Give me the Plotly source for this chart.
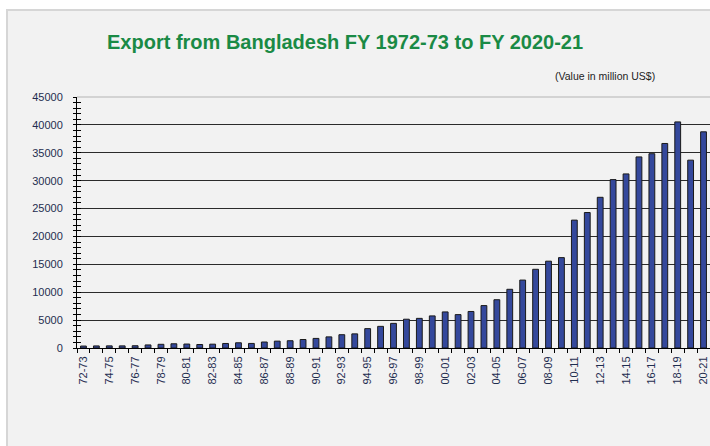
import plotly.graph_objects as go

fiscal_years = [
    "72-73", "73-74", "74-75", "75-76", "76-77", "77-78", "78-79", "79-80",
    "80-81", "81-82", "82-83", "83-84", "84-85", "85-86", "86-87", "87-88",
    "88-89", "89-90", "90-91", "91-92", "92-93", "93-94", "94-95", "95-96",
    "96-97", "97-98", "98-99", "99-00", "00-01", "01-02", "02-03", "03-04",
    "04-05", "05-06", "06-07", "07-08", "08-09", "09-10", "10-11", "11-12",
    "12-13", "13-14", "14-15", "15-16", "16-17", "17-18", "18-19", "19-20",
    "20-21",
]
export_values = [
    348, 372, 383, 380, 405, 549, 662, 759,
    710, 626, 687, 811, 935, 819, 1074, 1231,
    1305, 1524, 1718, 1994, 2383, 2534, 3473, 3882,
    4418, 5161, 5313, 5752, 6467, 5986, 6548, 7603,
    8655, 10526, 12178, 14111, 15565, 16205, 22928, 24288,
    27018, 30187, 31209, 34257, 34835, 36668, 40535, 33674,
    38758,
]
tick_labels = [fy if i % 2 == 0 else "" for i, fy in enumerate(fiscal_years)]
y_ticks = list(range(0, 45001, 5000))
y_tick_text = [str(v) for v in y_ticks]

W, H = 710, 446
L, R, T, B = 77, 0, 97, 98
PW, PH = W - L - R, H - T - B

def px_x(p):
    return (p - L) / PW

def px_y(p):
    return (H - B - p) / PH

navy = "#1f2d50"
font_main = "Liberation Sans, Arial, sans-serif"

fig = go.Figure()
fig.add_trace(go.Bar(
    x=fiscal_years, y=export_values,
    marker=dict(color="#34489c", line=dict(color="#1a1a1a", width=1)),
    hoverinfo="x+y",
))

fig.update_layout(
    width=W, height=H,
    margin=dict(l=L, r=R, t=T, b=B),
    paper_bgcolor="white",
    plot_bgcolor="rgba(0,0,0,0)",
    showlegend=False,
    bargap=0.55,
    xaxis=dict(
        type="category",
        categoryorder="array", categoryarray=fiscal_years,
        tickmode="array", tickvals=fiscal_years, ticktext=tick_labels,
        tickson="boundaries",
        ticks="outside", ticklen=4, tickcolor="#000", tickwidth=1,
        tickangle=-90,
        tickfont=dict(family=font_main, size=11, color=navy),
        ticklabelstandoff=3,
        showline=True, linecolor="#000", linewidth=1,
        showgrid=False,
        range=[-0.5, 48.5],
    ),
    yaxis=dict(
        range=[0, 45000],
        tickmode="array", tickvals=y_ticks, ticktext=y_tick_text,
        ticks="outside", ticklen=3, tickcolor="#000",
        minor=dict(dtick=1000, tick0=0, ticks="outside", ticklen=3, tickcolor="#000", showgrid=False),
        tickfont=dict(family=font_main, size=11, color=navy),
        showline=True, linecolor="#000", linewidth=1,
        showgrid=True, gridcolor="#2b2b2b", gridwidth=1,
        zeroline=False,
        ticklabelstandoff=8,
    ),
    yaxis2=dict(
        overlaying="y", side="left", range=[0, 45000],
        tickmode="array", tickvals=y_ticks,
        ticks="inside", ticklen=4, tickcolor="#000",
        minor=dict(dtick=1000, tick0=0, ticks="inside", ticklen=4, tickcolor="#000", showgrid=False),
        showticklabels=False, showgrid=False, showline=False, zeroline=False,
    ),
    shapes=[
        dict(type="rect", xref="paper", yref="paper",
             x0=px_x(7), x1=px_x(730), y0=px_y(460), y1=px_y(10),
             fillcolor="#f2f2f2", line=dict(color="#d6d6d6", width=2), layer="below"),
        dict(type="line", xref="paper", yref="paper",
             x0=0, x1=1, y0=1, y1=1,
             line=dict(color="#c8c8c8", width=1.5), layer="above"),
    ],
    annotations=[
        dict(text="Export from Bangladesh FY 1972-73 to FY 2020-21",
             xref="paper", yref="paper", x=px_x(345), y=px_y(42),
             xanchor="center", yanchor="middle", showarrow=False,
             font=dict(family=font_main, size=20, color="#1a8a45", weight="bold")),
        dict(text="(Value in million US$)",
             xref="paper", yref="paper", x=px_x(553), y=px_y(76),
             xanchor="left", yanchor="middle", showarrow=False,
             font=dict(family="Liberation Sans Narrow, Arial Narrow, Liberation Sans, sans-serif", size=10.5, color="#222")),
    ],
)

# invisible trace to activate the overlay axis carrying the inner tick marks
fig.add_trace(go.Scatter(x=[fiscal_years[0]], y=[0], yaxis="y2", mode="markers",
                         marker=dict(opacity=0), hoverinfo="skip", showlegend=False))

fig.write_html("out.html", config={"displayModeBar": False},
               post_script="document.body.style.margin='0';document.body.style.overflow='hidden';")
